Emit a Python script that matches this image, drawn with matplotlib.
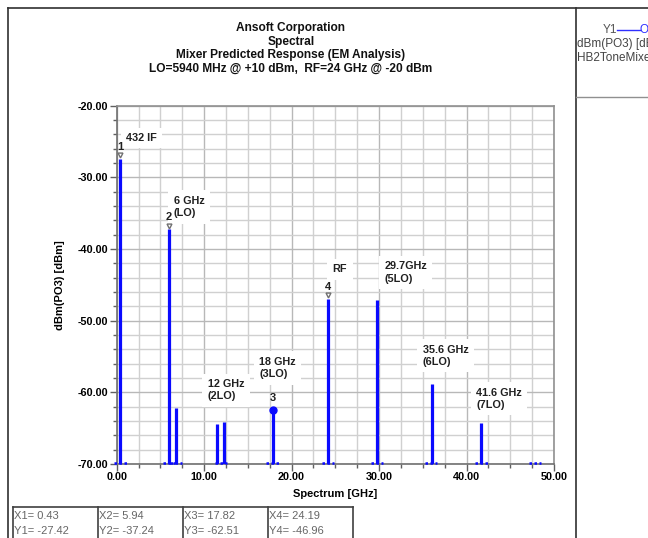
import matplotlib
matplotlib.use("Agg")
import matplotlib.pyplot as plt
from matplotlib.lines import Line2D
import numpy as np

plt.rcParams['font.family'] = ['Liberation Sans', 'DejaVu Sans']

# ---- data ----
freqs = [0.43, 5.94, 6.8, 11.5, 12.3, 17.82, 24.19, 29.8, 36.1, 41.7]
levels = [-27.42, -37.24, -62.2, -64.4, -64.2, -62.51, -46.96, -47.1, -58.9, -64.3]
floor_freqs = [0.43, 5.94, 6.8, 11.9, 17.82, 24.19, 29.8, 35.9, 41.7, 47.8]

marker_ids = ["1", "2", "3", "4"]
marker_x = [0.43, 5.94, 17.82, 24.19]
marker_y = [-27.42, -37.24, -62.51, -46.96]

ann_text = ["432 IF", "6 GHz\n(LO)", "12 GHz\n(2LO)", "18 GHz\n(3LO)", "RF",
            "29.7GHz\n(5LO)", "35.6 GHz\n(6LO)", "41.6 GHz\n(7LO)"]
ann_x = [1.1, 6.5, 10.4, 16.3, 24.7, 30.6, 35.0, 41.1]
ann_y = [-24.5, -34.15, -59.7, -56.6, -42.8, -43.3, -54.9, -60.9]

xticks = [0, 10, 20, 30, 40, 50]
yticks = [-20, -30, -40, -50, -60, -70]
title_lines = ["Ansoft Corporation", "Spectral", "Mixer Predicted Response (EM Analysis)",
               "LO=5940 MHz @ +10 dBm,  RF=24 GHz @ -20 dBm"]

W, H = 648, 538
fig = plt.figure(figsize=(W / 100, H / 100), dpi=100)
fig.patch.set_facecolor("white")

def fx(px):
    return px / W

def fy(py):
    return 1 - py / H

ax = fig.add_axes([fx(116.7), fy(464), fx(554) - fx(116.7), fy(105.7) - fy(464)])
ax.set_xlim(0, 50)
ax.set_ylim(-70, -20)

# grid
ax.set_xticks(xticks)
ax.set_yticks(yticks)
ax.set_xticks(np.arange(0, 50.01, 2.5), minor=True)
ax.set_yticks(np.arange(-70, -19.99, 2), minor=True)
ax.grid(which="minor", color="#d0d0d0", linewidth=1.0)
ax.grid(which="major", color="#b8b8b8", linewidth=1.0)
ax.set_axisbelow(True)

ax.set_xticklabels(["%.2f" % v for v in xticks], fontweight="bold", fontsize=7.8)
ax.set_yticklabels(["%.2f" % v for v in yticks], fontweight="bold", fontsize=7.8)
ax.tick_params(which="major", length=5, width=1, color="#606060", pad=1)
ax.tick_params(which="minor", length=3, width=1, color="#606060")
for s in ["left", "bottom"]:
    ax.spines[s].set_color("#707070")
    ax.spines[s].set_linewidth(1.2)
for s in ["top", "right"]:
    ax.spines[s].set_color("#909090")
    ax.spines[s].set_linewidth(1.2)

ax.set_xlabel("Spectrum [GHz]", fontweight="bold", fontsize=8, labelpad=5)
ax.set_ylabel("dBm(PO3) [dBm]", fontweight="bold", fontsize=8, labelpad=9)

# bars
ax.vlines(freqs, -70, levels, color="#0a0aff", linewidth=2.3, zorder=3)
for f in floor_freqs:
    ax.plot([f - 0.7, f + 0.7], [-69.85, -69.85], color="#0a0aff", linewidth=1.8,
            linestyle=(0, (1, 1)), zorder=3, clip_on=False)

# markers
for mid, mx, my in zip(marker_ids, marker_x, marker_y):
    if mid == "3":
        ax.plot(mx, my, "o", color="#0a0aff", markersize=5, zorder=4)
    else:
        ax.plot(mx, my + 0.5, marker="v", color="#707070", markersize=3.5,
                markerfacecolor="none", zorder=4)
    ax.text(mx, my + 1.0, mid, ha="center", va="bottom", fontsize=8,
            fontweight="bold", color="#202020", zorder=5)

# annotations
for t, x, y in zip(ann_text, ann_x, ann_y):
    ax.text(x, y, t, ha="left", va="center", fontsize=7.8, fontweight="bold",
            color="#202020", linespacing=1.3, zorder=2,
            bbox=dict(boxstyle="square,pad=0.5", facecolor="white", edgecolor="none"))

# titles
for i, line in enumerate(title_lines):
    fig.text(fx(291), fy(28 + i * 13.7), line, ha="center", va="center",
             fontsize=8.6, fontweight="bold", color="#111111")

# frame lines
fig.add_artist(Line2D([fx(8), fx(8)], [fy(8), 0], color="#303030", linewidth=1.2))
fig.add_artist(Line2D([fx(8), 1], [fy(8), fy(8)], color="#303030", linewidth=1.2))
fig.add_artist(Line2D([fx(576), fx(576)], [fy(8), 0], color="#303030", linewidth=1.2))
fig.add_artist(Line2D([fx(576), 1], [fy(97), fy(97)], color="#909090", linewidth=1.0))

# legend panel (clipped at the right edge, as in the reference)
fig.text(fx(603), fy(30), "Y1", ha="left", va="center", fontsize=8.5, color="#555555")
fig.add_artist(Line2D([fx(617), fx(640)], [fy(30), fy(30)], color="#3030ff", linewidth=1.0))
fig.text(fx(639), fy(30), "O", ha="left", va="center", fontsize=8.5, color="#3030ff")
fig.text(fx(577), fy(44), "dBm(PO3) [dBm]", ha="left", va="center", fontsize=8.5, color="#444444")
fig.text(fx(577), fy(58), "HB2ToneMixer", ha="left", va="center", fontsize=8.5, color="#444444")

# marker table
edges = [13, 98, 183, 268, 353]
fig.add_artist(Line2D([fx(13), fx(353)], [fy(507), fy(507)], color="#404040", linewidth=1.2))
for e in edges:
    fig.add_artist(Line2D([fx(e), fx(e)], [fy(507), 0], color="#404040", linewidth=1.2))
for i, (mid, mx, my) in enumerate(zip(marker_ids, marker_x, marker_y)):
    fig.text(fx(edges[i] + 1), fy(516), "X%s= %.2f" % (mid, mx), ha="left", va="center",
             fontsize=8, color="#666666")
    fig.text(fx(edges[i] + 1), fy(531), "Y%s= %.2f" % (mid, my), ha="left", va="center",
             fontsize=8, color="#666666")

fig.savefig("out.png", dpi=100)
